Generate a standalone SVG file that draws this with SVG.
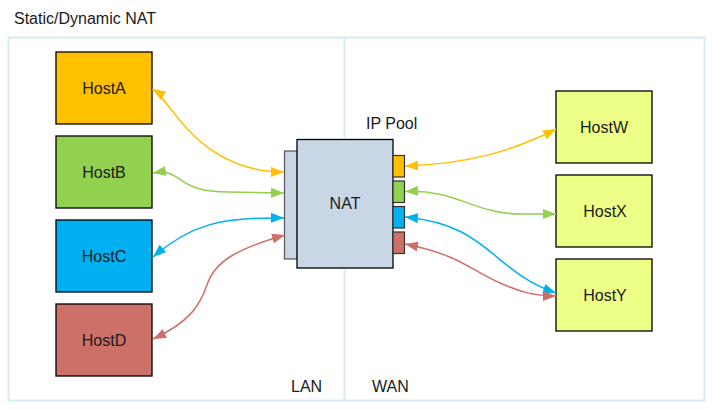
<svg xmlns="http://www.w3.org/2000/svg" width="712" height="410" viewBox="0 0 712 410">
<style>
text{font-family:"Liberation Sans",Arial,sans-serif;font-size:16px;fill:#1a1a1a}
.host{stroke:#000;stroke-width:1.3}
.c{fill:none;stroke-width:1.5}
.y{stroke:#FFC000}.g{stroke:#92D050}.b{stroke:#00B0F0}.r{stroke:#CD7068}
</style>
<defs>
<marker id="ay" markerUnits="userSpaceOnUse" markerWidth="14" markerHeight="10" refX="13" refY="5" orient="auto-start-reverse"><path d="M0,0 L13,5 L0,10 Z" fill="#FFC000"/></marker>
<marker id="ag" markerUnits="userSpaceOnUse" markerWidth="14" markerHeight="10" refX="13" refY="5" orient="auto-start-reverse"><path d="M0,0 L13,5 L0,10 Z" fill="#92D050"/></marker>
<marker id="ab" markerUnits="userSpaceOnUse" markerWidth="14" markerHeight="10" refX="13" refY="5" orient="auto-start-reverse"><path d="M0,0 L13,5 L0,10 Z" fill="#00B0F0"/></marker>
<marker id="ar" markerUnits="userSpaceOnUse" markerWidth="14" markerHeight="10" refX="13" refY="5" orient="auto-start-reverse"><path d="M0,0 L13,5 L0,10 Z" fill="#CD7068"/></marker>
</defs>
<rect width="712" height="410" fill="#fff"/>
<text x="14" y="24">Static/Dynamic NAT</text>
<g id="frame" fill="none" stroke="#D5ECF3" stroke-width="2">
<rect x="8.5" y="37.5" width="696" height="363"/>
<line x1="344.5" y1="37.5" x2="344.5" y2="400.5"/>
</g>
<text x="291" y="392">LAN</text>
<text x="372" y="392">WAN</text>
<g id="HostA"><rect class="host" x="56" y="52" width="96" height="72" fill="#FFC000"/><text x="104" y="93.5" text-anchor="middle">HostA</text></g>
<g id="HostB"><rect class="host" x="56" y="136" width="96" height="72" fill="#92D050"/><text x="104" y="177.5" text-anchor="middle">HostB</text></g>
<g id="HostC"><rect class="host" x="56" y="220" width="96" height="72" fill="#00B0F0"/><text x="104" y="261.5" text-anchor="middle">HostC</text></g>
<g id="HostD"><rect class="host" x="56" y="304" width="96" height="72" fill="#CD7068"/><text x="104" y="345.5" text-anchor="middle">HostD</text></g>
<g id="HostW"><rect class="host" x="556" y="91" width="96" height="72" fill="#EEFF88"/><text x="604" y="132.5" text-anchor="middle">HostW</text></g>
<g id="HostX"><rect class="host" x="556" y="175" width="96" height="72" fill="#EEFF88"/><text x="605" y="216.5" text-anchor="middle">HostX</text></g>
<g id="HostY"><rect class="host" x="556" y="259" width="96" height="72" fill="#EEFF88"/><text x="605" y="300.5" text-anchor="middle">HostY</text></g>
<g id="NAT">
<rect x="284.5" y="151" width="13" height="108" fill="#C9D6E6" stroke="#555" stroke-width="1.2"/>
<rect x="297" y="139.5" width="96" height="128.5" fill="#C9D6E6" stroke="#000" stroke-width="1.3"/>
<text x="345" y="208.5" text-anchor="middle">NAT</text>
</g>
<g id="IPPool">
<text x="366" y="129">IP Pool</text>
<rect x="393" y="155.5" width="11.5" height="21.5" fill="#FFC000" stroke="#333" stroke-width="1.2"/>
<rect x="393" y="181" width="11.5" height="21.5" fill="#92D050" stroke="#333" stroke-width="1.2"/>
<rect x="393" y="206.5" width="11.5" height="21.5" fill="#00B0F0" stroke="#333" stroke-width="1.2"/>
<rect x="393" y="232" width="11.5" height="21.5" fill="#CD7068" stroke="#333" stroke-width="1.2"/>
</g>
<g id="connectors">
<path class="c y" d="M152.5,89 C172,101 198,172 284,172" marker-start="url(#ay)" marker-end="url(#ay)"/>
<path class="c g" d="M153,173 C185,168 172,192 230,192 L284,193" marker-start="url(#ag)" marker-end="url(#ag)"/>
<path class="c b" d="M153,257 C190,225 220,217 284,218" marker-start="url(#ab)" marker-end="url(#ab)"/>
<path class="c r" d="M153,339 C190,322 200,305 207,285 C215,260 240,248 285,235" marker-start="url(#ar)" marker-end="url(#ar)"/>
<path class="c y" d="M405,166 C470,164 515,150 556,129" marker-start="url(#ay)" marker-end="url(#ay)"/>
<path class="c g" d="M405,191.5 C455,189 475,214 520,214 L556,214" marker-start="url(#ag)" marker-end="url(#ag)"/>
<path class="c b" d="M405,217 C490,225 490,270 556,293" marker-start="url(#ab)" marker-end="url(#ab)"/>
<path class="c r" d="M405,244 C460,255 470,270 500,283 C520,292 535,296 556,296" marker-start="url(#ar)" marker-end="url(#ar)"/>
</g>
</svg>
